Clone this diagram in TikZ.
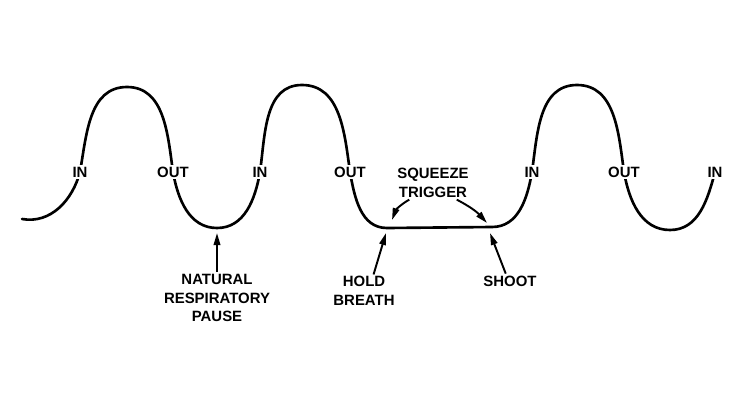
\documentclass[tikz,border=0pt]{standalone}
\usepackage{fontspec}
\setmainfont{Liberation Sans}
\usetikzlibrary{arrows.meta}
\tikzset{
	breath/.style={line width=1.5pt, line cap=round},
	lbl/.style={fill=white, inner sep=1pt, font=\bfseries\fontsize{8.5}{10.5}\selectfont},
	note/.style={inner sep=1pt, align=center, font=\bfseries\fontsize{8.5}{10.5}\selectfont},
	arr/.style={line width=1.1pt, -{Triangle[length=2.4mm,width=1.3mm]}}
}
\begin{document}
\begin{tikzpicture}[x=0.02cm,y=0.02cm]
				\useasboundingbox (0,0) rectangle (750,400);
				\coordinate (s) at (22,181);
				\coordinate (in1) at (80,228);
				\coordinate (p1) at (127,313);
				\coordinate (out1) at (173,228);
				\coordinate (t1) at (217,172);
				\coordinate (in2) at (260,228);
				\coordinate (p2) at (302,315);
				\coordinate (out2) at (350,228);
				\coordinate (h) at (387,172);
				\coordinate (sh) at (492,173);
				\coordinate (in3) at (532,228);
				\coordinate (p3) at (577,315);
				\coordinate (out3) at (624,228);
				\coordinate (t3) at (670,170);
				\coordinate (in4) at (715,228);
				\draw[breath] (s) to[out=-10,in=-105] (in1) to[out=80,in=180] (p1)
					to[out=0,in=98] (out1) to[out=-80,in=180] (t1) to[out=0,in=-100] (in2)
					to[out=82,in=180] (p2) to[out=0,in=98] (out2) to[out=-80,in=180] (h)
					-- (sh) to[out=0,in=-100] (in3) to[out=82,in=180] (p3)
					to[out=0,in=98] (out3) to[out=-80,in=180] (t3) to[out=0,in=-105] (in4);
				\foreach \p/\t in {in1/IN,out1/OUT,in2/IN,out2/OUT,in3/IN,out3/OUT,in4/IN} {
					\node[lbl] (l\p) at (\p) {\t};
				};
				\coordinate (pause) at (217,167);
				\coordinate (hb) at (386,167);
				\coordinate (st) at (490,167);
				\coordinate (sqa) at (392,180);
				\coordinate (sqb) at (487,177);
				\node[note] (nrp) at (217,102) {NATURAL\\RESPIRATORY\\PAUSE};
				\node[note] (hold) at (364,109) {HOLD\\BREATH};
				\node[note] (shoot) at (510,119) {SHOOT};
				\node[note] (sq) at (433,217) {SQUEEZE\\TRIGGER};
				\draw[arr] (nrp.north) -- (pause);
				\draw[arr] (hold.60) -- (hb);
				\draw[arr] (shoot.120) -- (st);
				\draw[arr] (sq.215) to[bend right=20] (sqa);
				\draw[arr] (sq.325) to[bend left=10] (sqb);
			\end{tikzpicture}
\end{document}
